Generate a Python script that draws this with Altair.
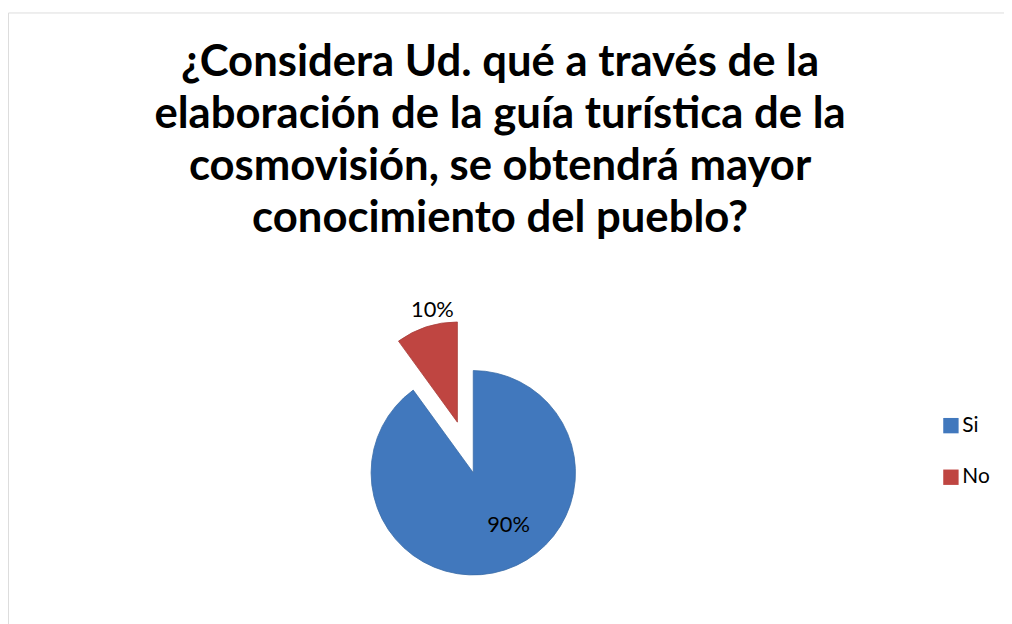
import altair as alt
import pandas as pd

# ---- data ----
CATEGORIES = ["Si", "No"]
VALUES = [90, 10]
LABELS = ["90%", "10%"]
TITLE_LINES = [
    "¿Considera Ud. qué a través de la",
    "elaboración de la guía turística de la",
    "cosmovisión, se obtendrá mayor",
    "conocimiento del pueblo?",
]
COLORS = ["#4178BD", "#BF4541"]

# table built from the arrays
ends = pd.Series(VALUES).cumsum()
df = pd.DataFrame({
    "cat": CATEGORIES,
    "value": VALUES,
    "label": LABELS,
    "end": ends,
    "start": ends - pd.Series(VALUES),
})
df["mid"] = (df["start"] + df["end"]) / 2

FONT = "Lato"
R = 103
CX, CY = 469, 464          # pie centre (view coords)
EX, EY = -16, -51          # explosion offset for "No"

theta_scale = alt.Scale(domain=[0, 100], range=[0, 6.283185307179586])
color_enc = alt.Color(
    "cat:N",
    scale=alt.Scale(domain=CATEGORIES, range=COLORS),
    legend=alt.Legend(
        title=None, orient="none", legendX=940, legendY=406,
        symbolType="square", symbolSize=240, symbolStrokeWidth=0,
        labelFont=FONT, labelFontSize=21, labelColor="#000000",
        rowPadding=30, labelOffset=1,
    ),
)

base = alt.Chart(df)

si_arc = base.transform_filter(alt.datum.cat == "Si").mark_arc(
    outerRadius=R, stroke="#3A6CA8", strokeWidth=0.8
).encode(
    theta=alt.Theta("start:Q", scale=theta_scale),
    theta2="end:Q",
    color=color_enc,
    x=alt.value(CX), y=alt.value(CY),
)
no_arc = base.transform_filter(alt.datum.cat == "No").mark_arc(
    outerRadius=R - 2, stroke="#A83C39", strokeWidth=0.8
).encode(
    theta=alt.Theta("start:Q", scale=theta_scale),
    theta2="end:Q",
    color=color_enc,
    x=alt.value(CX + EX), y=alt.value(CY + EY),
)
si_lbl = base.transform_filter(alt.datum.cat == "Si").mark_text(
    font=FONT, fontSize=22, color="#000000", dx=17, dy=-4
).encode(
    theta=alt.Theta("mid:Q", scale=theta_scale),
    radius=alt.value(60),
    text="label:N",
    x=alt.value(CX), y=alt.value(CY),
)
no_lbl = base.transform_filter(alt.datum.cat == "No").mark_text(
    font=FONT, fontSize=22, color="#000000", dx=11, dy=-2
).encode(
    theta=alt.Theta("mid:Q", scale=theta_scale),
    radius=alt.value(117),
    text="label:N",
    x=alt.value(CX + EX), y=alt.value(CY + EY),
)
title = alt.Chart(pd.DataFrame({"t": [0]})).mark_text(
    text=TITLE_LINES, font=FONT, fontSize=44, fontWeight="bold",
    lineHeight=52.5, align="center", baseline="alphabetic", color="#000000",
).encode(x=alt.value(496), y=alt.value(64))

chart = alt.layer(si_arc, no_arc, si_lbl, no_lbl, title).properties(
    width=1004, height=620,
    autosize=alt.AutoSizeParams(type="none"),
    padding={"left": 0, "top": 2, "right": 0, "bottom": 0},
).configure_view(stroke="#8C8C8C", strokeWidth=2).configure(background="white")

chart.save("out.html", embed_options={"renderer": "svg", "actions": False})
